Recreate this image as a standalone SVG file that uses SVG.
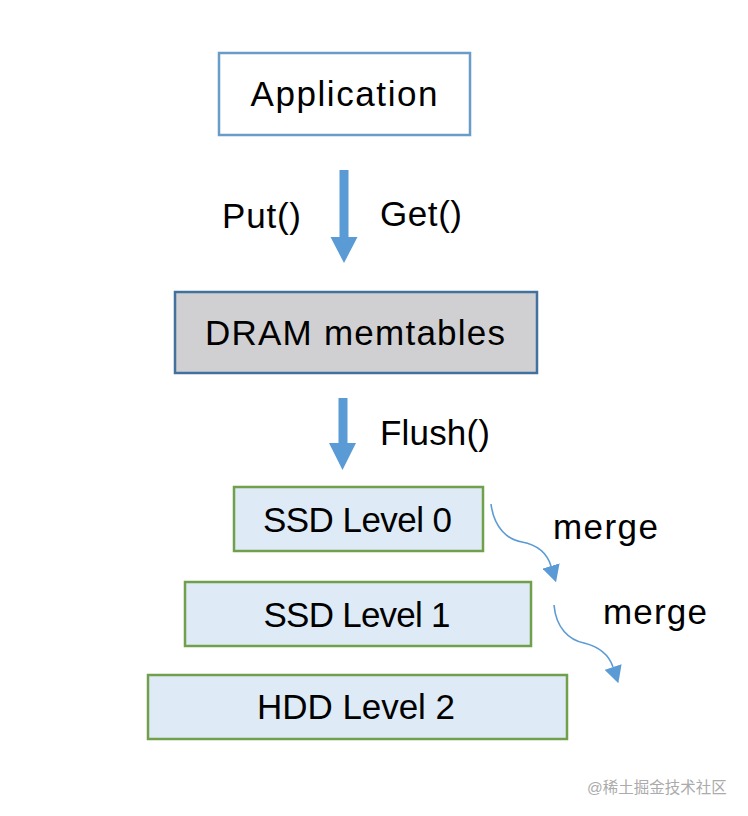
<svg xmlns="http://www.w3.org/2000/svg" width="748" height="816" viewBox="0 0 748 816">
  <style>
    .lbl { font-family: "Liberation Sans", Arial, sans-serif; font-size: 35px; fill: #000; }
    .lvl { fill: #DEEAF6; stroke: #70A04B; stroke-width: 2.5; }
    .big { fill: #5B9BD5; }
    .merge { fill: none; stroke: #5B9BD5; stroke-width: 1.6; marker-end: url(#head); }
    .wm { font-family: "Liberation Sans", "Noto Sans CJK SC", sans-serif; font-size: 15.5px; fill: #ABABAB; }
  </style>
  <defs>
    <marker id="head" markerUnits="userSpaceOnUse" markerWidth="18" markerHeight="18" viewBox="0 0 18 18" refX="0" refY="9" orient="auto">
      <path d="M0,0 L17,9 L0,18 z" fill="#5B9BD5"/>
    </marker>
  </defs>
  <rect width="748" height="816" fill="#fff"/>

  <g id="application">
    <rect x="219" y="53" width="251" height="82" fill="#fff" stroke="#6A9CC8" stroke-width="2.5"/>
    <text class="lbl" x="344" y="106" text-anchor="middle" textLength="187">Application</text>
  </g>

  <g id="dram">
    <rect x="175" y="292" width="362" height="81" fill="#D0CFD2" stroke="#41719C" stroke-width="2.5"/>
    <text class="lbl" x="355" y="345" text-anchor="middle" textLength="300">DRAM memtables</text>
  </g>

  <g id="ssd0">
    <rect class="lvl" x="234" y="487" width="249" height="64"/>
    <text class="lbl" x="357.5" y="532" text-anchor="middle" textLength="189">SSD Level 0</text>
  </g>

  <g id="ssd1">
    <rect class="lvl" x="185" y="582" width="346" height="64"/>
    <text class="lbl" x="357" y="627" text-anchor="middle" textLength="187">SSD Level 1</text>
  </g>

  <g id="hdd2">
    <rect class="lvl" x="148" y="675" width="419" height="64"/>
    <text class="lbl" x="356" y="719" text-anchor="middle" textLength="198">HDD Level 2</text>
  </g>

  <g id="connectors">
    <polygon class="big" points="339.5,170 348.5,170 348.5,237 357.5,237 344,263 330.5,237 339.5,237"/>
    <polygon class="big" points="338.5,398 347.5,398 347.5,443 356,443 342.5,470 329,443 338.5,443"/>
    <path class="merge" d="M491,504 C494,528 508,540 522,542 C538,545 547,553 551,566"/>
    <path class="merge" d="M554,605 C556,628 569,640 584,643 C600,647 609,655 613,667"/>
  </g>

  <g id="labels">
    <text class="lbl" x="222" y="228" textLength="79">Put()</text>
    <text class="lbl" x="380" y="226" textLength="82">Get()</text>
    <text class="lbl" x="380" y="445" textLength="110">Flush()</text>
    <text class="lbl" x="553" y="539" textLength="105">merge</text>
    <text class="lbl" x="603" y="624" textLength="104">merge</text>
  </g>

  <text class="wm" x="587" y="793">@稀土掘金技术社区</text>
</svg>
